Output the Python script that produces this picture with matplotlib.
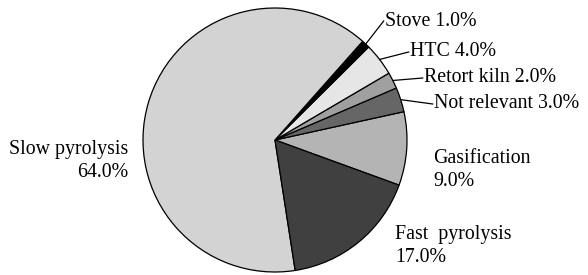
import numpy as np
import matplotlib.pyplot as plt

labels = ['Gasification', 'Not relevant', 'Retort kiln', 'HTC', 'Stove',
          'Slow pyrolysis', 'Fast pyrolysis']
shares = [9.0, 3.0, 2.0, 4.0, 1.0, 64.0, 17.0]
colors = ['#b4b4b4', '#666666', '#a0a0a0', '#e6e6e6', '#000000',
          '#d3d3d3', '#404040']

plt.rcParams['font.family'] = ['Liberation Serif', 'DejaVu Serif']

W, H = 588, 275
cx, cy, r = 275, 140, 132

fig = plt.figure(figsize=(W / 100, H / 100), dpi=100)
ax = fig.add_axes([(cx - r) / W, (H - cy - r) / H, 2 * r / W, 2 * r / H])
wedges, _ = ax.pie(shares, colors=colors, startangle=-20, counterclock=True,
                   wedgeprops=dict(edgecolor='black', linewidth=0.9))
ax.set_xlim(-1, 1)
ax.set_ylim(-1, 1)
ax.set_aspect('equal')
ax.axis('off')


def px(x, y):
    return (x - cx) / r, (cy - y) / r


fs = 14.3
# small slices: label with leader line
small = {'Stove': (385, 21), 'HTC': (410, 52), 'Retort kiln': (424, 78),
         'Not relevant': (434, 104)}
for w, lab, val in zip(wedges, labels, shares):
    if lab in small:
        mid = np.deg2rad((w.theta1 + w.theta2) / 2)
        tx, ty = px(*small[lab])
        ax.plot([np.cos(mid), tx - 0.01], [np.sin(mid), ty], color='black',
                lw=0.9, clip_on=False)
        ax.text(tx, ty, f'{lab} {val:.1f}%', fontsize=fs, ha='left',
                va='center')

tx, ty = px(433, 170)
ax.text(tx, ty, f'Gasification\n{shares[0]:.1f}%', fontsize=fs, ha='left',
        va='center', linespacing=1.35)
tx, ty = px(395, 246)
ax.text(tx, ty, f'Fast  pyrolysis\n{shares[6]:.1f}%', fontsize=fs,
        ha='left', va='center', linespacing=1.35)
tx, ty = px(128, 161)
ax.text(tx, ty, f'Slow pyrolysis\n{shares[5]:.1f}%', fontsize=fs,
        ha='right', va='center', multialignment='right', linespacing=1.35)

fig.savefig('out.png', dpi=100)
